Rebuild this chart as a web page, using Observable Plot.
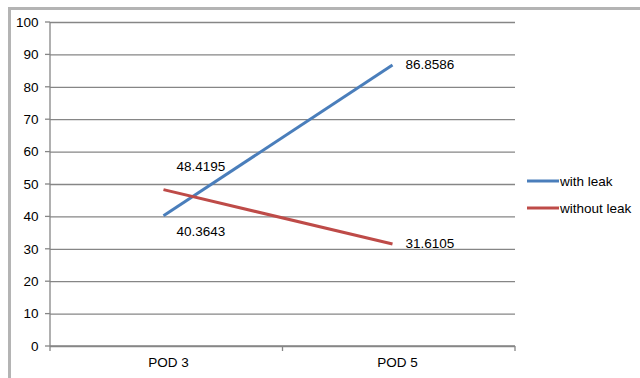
<!DOCTYPE html>
<html>
<head>
<meta charset="utf-8">
<script src="https://cdn.jsdelivr.net/npm/d3@7"></script>
<script src="https://cdn.jsdelivr.net/npm/@observablehq/plot@0.6"></script>
<style>
  html, body { margin: 0; padding: 0; background: #fff; }
  #wrap { position: relative; width: 640px; height: 378px; overflow: hidden; }
  #edge { position: absolute; left: 8px; top: 7px; width: 700px; height: 400px;
          border-left: 3px solid #b4b4b4; border-top: 3px solid #b4b4b4; pointer-events: none; }
  svg { font-family: "Liberation Sans", Arial, sans-serif; }
</style>
</head>
<body>
<div id="wrap"><div id="edge"></div></div>
<script>
// Categories and series values
const pods = ["POD 3", "POD 5"];
const withLeak = [40.3643, 86.8586];
const withoutLeak = [48.4195, 31.6105];
const seriesNames = ["with leak", "without leak"];
const seriesColors = ["#4a7ebb", "#be4b48"];
const yTicks = [0, 10, 20, 30, 40, 50, 60, 70, 80, 90, 100];

const rows = [
  ...pods.map((p, i) => ({pod: p, value: withLeak[i], series: seriesNames[0]})),
  ...pods.map((p, i) => ({pod: p, value: withoutLeak[i], series: seriesNames[1]}))
];

// Data label offsets per series/category
const labelPos = {
  "with leak|POD 3": {dx: 13, dy: 16},
  "with leak|POD 5": {dx: 13, dy: 0},
  "without leak|POD 3": {dx: 13, dy: -23},
  "without leak|POD 5": {dx: 13, dy: 0}
};

const W = 640, H = 378;
const mL = 50, mR = 125, mT = 22, mB = 32;
const FS = 13.5;

const chart = Plot.plot({
  width: W, height: H,
  marginLeft: mL, marginRight: mR, marginTop: mT, marginBottom: mB,
  style: {fontSize: FS + "px", color: "#000", background: "transparent"},
  x: {type: "point", domain: pods, range: [163, 392], padding: 0, label: null},
  y: {domain: [0, 100], label: null},
  color: {domain: seriesNames, range: seriesColors},
  marks: [
    Plot.gridY(yTicks, {stroke: "#868686", strokeOpacity: 1, strokeWidth: 1.3}),
    Plot.axisY(yTicks, {tickSize: 0, tickPadding: 12, fontSize: FS, fill: "#000"}),
    Plot.axisX(pods, {tickSize: 0, tickPadding: 11, dx: 5, fontSize: FS, fill: "#000"}),
    Plot.line(rows, {x: "pod", y: "value", z: "series", stroke: "series", strokeWidth: 3, strokeLinecap: "butt"}),
    ...rows.map(r => {
      const p = labelPos[r.series + "|" + r.pod];
      return Plot.text([r], {x: "pod", y: "value", text: d => d.value.toFixed(4),
        dx: p.dx, dy: p.dy, textAnchor: "start", fontSize: FS, fill: "#000"});
    })
  ]
});

// Axis lines and category/value tick marks in the chart's frame
const svg = d3.select(chart);
const x0 = mL, x1 = W - mR, y0 = H - mB, y1 = mT;
const g = svg.append("g").attr("stroke", "#868686").attr("stroke-width", 1.3);
g.append("line").attr("x1", x0).attr("x2", x0).attr("y1", y1).attr("y2", y0);
g.append("line").attr("x1", x0).attr("x2", x1).attr("y1", y0).attr("y2", y0);
const ys = d3.scaleLinear([0, 100], [y0, y1]);
yTicks.forEach(t => g.append("line").attr("x1", x0 - 5).attr("x2", x0).attr("y1", ys(t)).attr("y2", ys(t)));
d3.range(pods.length + 1).forEach(i => {
  const xx = x0 + (x1 - x0) * i / pods.length;
  g.append("line").attr("x1", xx).attr("x2", xx).attr("y1", y0).attr("y2", y0 + 5);
});

// Legend
const leg = svg.append("g").attr("font-size", FS).attr("text-anchor", "start");
seriesNames.forEach((n, i) => {
  const yy = 181 + i * 27;
  leg.append("line").attr("x1", 527).attr("x2", 559).attr("y1", yy).attr("y2", yy)
    .attr("stroke", seriesColors[i]).attr("stroke-width", 3);
  leg.append("text").attr("x", 560).attr("y", yy).attr("dy", "0.35em").attr("fill", "#000").text(n);
});

document.getElementById("wrap").prepend(chart);
</script>
</body>
</html>
